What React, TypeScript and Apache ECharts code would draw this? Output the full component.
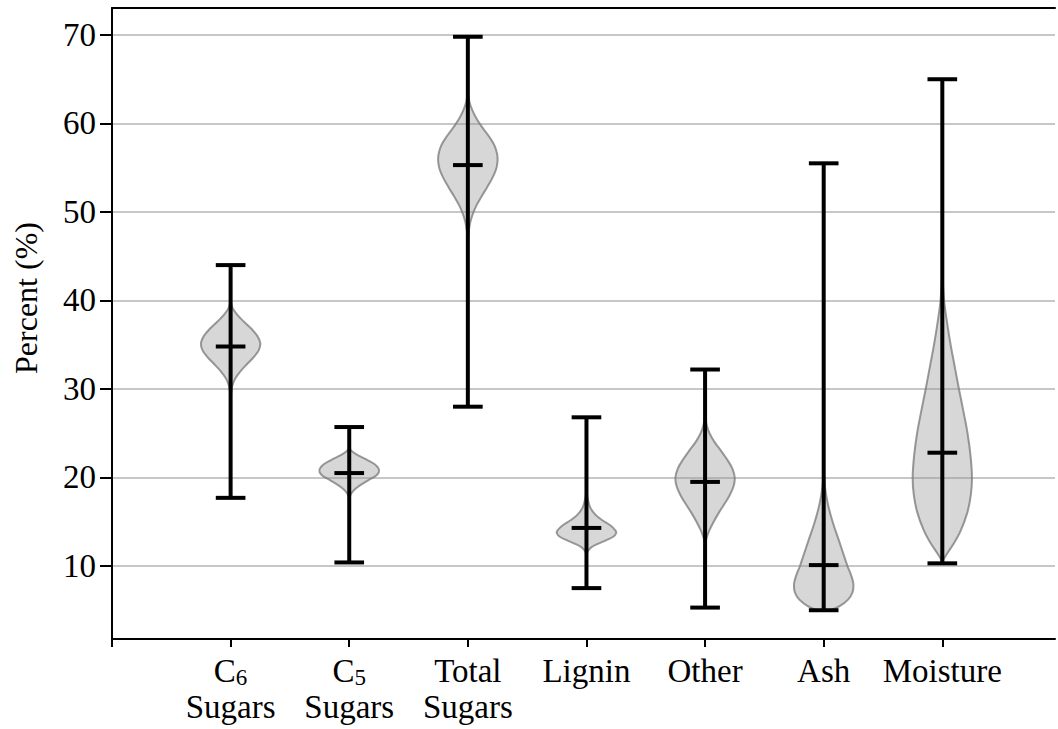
import React, { useEffect, useRef } from 'react';
import * as echarts from 'echarts';

const categories = ['C6 Sugars', 'C5 Sugars', 'Total Sugars', 'Lignin', 'Other', 'Ash', 'Moisture'];
const categoryLabels = [
  '{t|C}{s|6}\n{t|Sugars}',
  '{t|C}{s|5}\n{t|Sugars}',
  '{t|Total}\n{t|Sugars}',
  '{t|Lignin}',
  '{t|Other}',
  '{t|Ash}',
  '{t|Moisture}',
];
const yTicks = [10, 20, 30, 40, 50, 60, 70];
const yTitle = 'Percent (%)';

const mins = [17.7, 10.4, 28.0, 7.5, 5.3, 5.0, 10.3];
const maxs = [44.0, 25.7, 69.8, 26.8, 32.2, 55.5, 65.0];
const medians = [34.8, 20.5, 55.3, 14.3, 19.5, 10.1, 22.8];

// violin outlines: [value, relative half-width]
const violinC6 = [[40, 0], [39.2, 0.06], [38.4, 0.22], [37.6, 0.45], [36.8, 0.7], [36, 0.9], [35.2, 1.0], [34.4, 0.95], [33.6, 0.78], [32.8, 0.55], [32, 0.33], [31.2, 0.16], [30.4, 0.06], [29.6, 0.02], [29, 0]];
const violinC5 = [[23.4, 0], [23, 0.08], [22.5, 0.3], [22, 0.6], [21.5, 0.86], [21, 0.99], [20.6, 1.0], [20.2, 0.9], [19.7, 0.65], [19.2, 0.4], [18.7, 0.2], [18.2, 0.07], [17.7, 0]];
const violinTotal = [[63.6, 0], [62.5, 0.05], [61.5, 0.15], [60.5, 0.3], [59.5, 0.5], [58.5, 0.72], [57.5, 0.9], [56.5, 0.99], [55.7, 1.0], [54.8, 0.95], [53.8, 0.82], [52.8, 0.65], [51.8, 0.47], [50.8, 0.3], [49.8, 0.17], [48.8, 0.08], [47.8, 0.03], [46.8, 0]];
const violinLignin = [[18.6, 0], [17.6, 0.04], [16.6, 0.13], [15.8, 0.3], [15.2, 0.52], [14.6, 0.8], [14.0, 0.98], [13.7, 1.0], [13.3, 0.9], [12.9, 0.65], [12.5, 0.38], [12.1, 0.16], [11.7, 0.05], [11.3, 0]];
const violinOther = [[27, 0], [26, 0.05], [25, 0.15], [24, 0.32], [23, 0.54], [22, 0.75], [21, 0.92], [20, 1.0], [19, 0.96], [18, 0.83], [17, 0.65], [16, 0.46], [15, 0.29], [14, 0.14], [13.2, 0.05], [12.6, 0]];
const violinAsh = [[21, 0], [19, 0.04], [17, 0.14], [15, 0.3], [13, 0.5], [11, 0.7], [10, 0.8], [9, 0.92], [8, 1.0], [7, 0.97], [6.2, 0.82], [5.5, 0.55], [5.0, 0.2]];
const violinMoisture = [[43, 0], [40, 0.06], [37.5, 0.16], [35, 0.28], [32.5, 0.42], [30, 0.56], [27.5, 0.71], [25, 0.85], [22.5, 0.95], [20, 1.0], [18, 0.96], [16, 0.84], [14, 0.62], [12.5, 0.38], [11.5, 0.18], [10.8, 0.05], [10.4, 0]];
const violins = [violinC6, violinC5, violinTotal, violinLignin, violinOther, violinAsh, violinMoisture];

const FONT = 'Liberation Serif';

export default function App() {
  const ref = useRef<HTMLDivElement>(null);
  useEffect(() => {
    if (!ref.current) return;
    const chart = echarts.init(ref.current, undefined, { renderer: 'svg' });
    const option: any = {
      animation: false,
      backgroundColor: '#ffffff',
      textStyle: { fontFamily: FONT },
      grid: { left: 112, right: 0, top: 8, bottom: 90, containLabel: false },
      graphic: [
        {
          type: 'text',
          x: 26,
          y: 298,
          rotation: Math.PI / 2,
          style: {
            text: '{a|' + yTitle + '}',
            rich: { a: { fontFamily: FONT, fontSize: 32, lineHeight: 34, fill: '#000', color: '#000' } },
            fill: '#000',
            align: 'center',
            verticalAlign: 'middle',
          },
        },
      ],
      xAxis: [
        {
          type: 'value',
          min: 0,
          max: 7.95,
          interval: 1,
          axisLine: { show: true, lineStyle: { color: '#000', width: 2 } },
          axisTick: { show: true, length: 8, customValues: [0, 1, 2, 3, 4, 5, 6, 7], lineStyle: { color: '#000', width: 2 } },
          splitLine: { show: false },
          axisLabel: {
            margin: 14,
            color: '#000',
            fontFamily: FONT,
            formatter: (v: number) => (v >= 1 && v <= categories.length ? categoryLabels[v - 1] : ''),
            rich: {
              t: { fontSize: 33, lineHeight: 36, fontFamily: FONT, color: '#000' },
              s: { fontSize: 23, lineHeight: 18, fontFamily: FONT, color: '#000', verticalAlign: 'bottom' },
            },
          },
        },
        {
          type: 'value',
          position: 'top',
          min: 0,
          max: 7.95,
          axisLine: { show: true, lineStyle: { color: '#000', width: 2 } },
          axisTick: { show: false },
          axisLabel: { show: false },
          splitLine: { show: false },
        },
      ],
      yAxis: {
        type: 'value',
        min: 1.75,
        max: 73.05,
        splitNumber: 7,
        axisLine: { show: true, lineStyle: { color: '#000', width: 2 } },
        axisTick: { show: true, length: 12, customValues: yTicks, lineStyle: { color: '#000', width: 2 } },
        axisLabel: {
          customValues: yTicks,
          margin: 16,
          fontFamily: FONT,
          fontSize: 33,
          color: '#000',
        },
        splitLine: { show: true, lineStyle: { color: '#b4b4b4', width: 1.5 } },
      },
      series: [
        {
          type: 'custom',
          xAxisIndex: 0,
          z: 2,
          data: categories.map((_, i) => [i + 1]),
          renderItem: (params: any, api: any) => {
            const i = params.dataIndex;
            const prof = violins[i];
            const x = api.value(0);
            const cx = api.coord([x, 40])[0];
            const half = 0.25 * api.size([1, 0])[0];
            const right = prof.map(([v, w]) => [cx + w * half, api.coord([x, v])[1]]);
            const left = prof
              .slice()
              .reverse()
              .map(([v, w]) => [cx - w * half, api.coord([x, v])[1]]);
            return {
              type: 'polygon',
              shape: { points: right.concat(left), smooth: 0.35 },
              style: { fill: 'rgba(150,150,150,0.38)', stroke: 'rgba(120,120,120,0.75)', lineWidth: 2 },
            };
          },
        },
        {
          type: 'custom',
          xAxisIndex: 0,
          z: 3,
          data: categories.map((_, i) => [i + 1, mins[i], maxs[i], medians[i]]),
          renderItem: (params: any, api: any) => {
            const x = api.value(0);
            const pMin = api.coord([x, api.value(1)]);
            const pMax = api.coord([x, api.value(2)]);
            const pMed = api.coord([x, api.value(3)]);
            const cap = 0.125 * api.size([1, 0])[0];
            const st = { stroke: '#000', lineWidth: 4 };
            const hl = (p: number[]) => ({
              type: 'line',
              shape: { x1: p[0] - cap, y1: p[1], x2: p[0] + cap, y2: p[1] },
              style: st,
            });
            return {
              type: 'group',
              children: [
                { type: 'line', shape: { x1: pMin[0], y1: pMin[1], x2: pMax[0], y2: pMax[1] }, style: st },
                hl(pMin),
                hl(pMax),
                hl(pMed),
              ],
            };
          },
        },
      ],
    };
    chart.setOption(option);
    return () => chart.dispose();
  }, []);
  return <div ref={ref} style={{ position: 'absolute', left: 0, top: 0, width: 1058, height: 729 }} />;
}
